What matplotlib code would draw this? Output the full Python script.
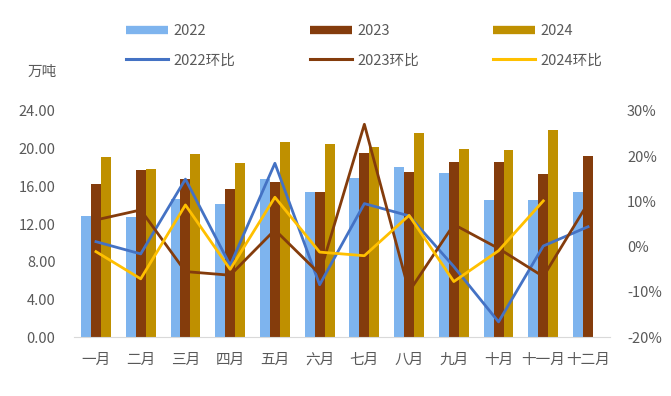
import numpy as np
import matplotlib
matplotlib.use("Agg")
from matplotlib import pyplot as plt
from matplotlib.lines import Line2D

plt.rcParams['font.family'] = ['Noto Sans CJK SC', 'DejaVu Sans']

months = ['一月', '二月', '三月', '四月', '五月', '六月',
          '七月', '八月', '九月', '十月', '十一月', '十二月']

# monthly output, 万吨
v2022 = [12.85, 12.78, 14.7, 14.1, 16.77, 15.4, 16.9, 18.02, 17.37, 14.57, 14.57, 15.4]
v2023 = [16.2, 17.7, 16.77, 15.73, 16.5, 15.35, 19.57, 17.48, 18.52, 18.52, 17.25, 19.18]
v2024 = [19.07, 17.8, 19.4, 18.5, 20.7, 20.5, 20.12, 21.62, 19.99, 19.88, 21.97]

# month-on-month change, %
m2022 = [1.1, -1.6, 14.9, -4.1, 18.4, -8.4, 9.5, 6.8, -4.4, -16.6, 0.15, 4.4]
m2023 = [5.9, 8.1, -5.5, -6.3, 3.7, -6.0, 27.0, -9.9, 4.9, -0.4, -6.6, 9.6]
m2024 = [-1.1, -7.1, 9.2, -5.0, 10.9, -1.2, -2.0, 6.9, -7.7, -0.9, 10.1]

c22_bar = '#7EB4EE'
c23_bar = '#843C0C'
c24_bar = '#BF9000'
c22_line = '#4472C4'
c23_line = '#843C0C'
c24_line = '#FFC000'
txt = '#595959'

fig = plt.figure(figsize=(6.71, 3.96), dpi=100)
ax = fig.add_axes([73.6/671, 1-337.3/396, (610.4-73.6)/671, (337.3-110.7)/396])
ax2 = ax.twinx()

x = np.arange(len(months))
w = 0.222
ax.bar(x - w, v2022, w, color=c22_bar, zorder=2)
ax.bar(x, v2023, w, color=c23_bar, zorder=2)
ax.bar(x[:len(v2024)] + w, v2024, w, color=c24_bar, zorder=2)

ax2.plot(x, np.array(m2022)/100, color=c22_line, lw=2)
ax2.plot(x, np.array(m2023)/100, color=c23_line, lw=2)
ax2.plot(x[:len(m2024)], np.array(m2024)/100, color=c24_line, lw=2)

ax.set_xlim(-0.5, 11.5)
ax.set_ylim(0, 24)
ax.set_yticks(np.arange(0, 25, 4))
ax.set_yticklabels(['%.2f' % t for t in np.arange(0, 25, 4)])
ax2.set_ylim(-0.2, 0.3)
ax2.set_yticks(np.arange(-0.2, 0.31, 0.1))
ax2.set_yticklabels(['%d%%' % round(t*100) for t in np.arange(-0.2, 0.31, 0.1)])
ax.set_xticks(x)
ax.set_xticklabels(months)

for a in (ax, ax2):
    for s in a.spines.values():
        s.set_visible(False)
    a.tick_params(length=0, labelsize=10.5, colors=txt)
ax.spines['bottom'].set_visible(True)
ax.spines['bottom'].set_color('#D9D9D9')
ax.tick_params(axis='y', pad=13)
ax.tick_params(axis='x', pad=11)
ax2.tick_params(axis='y', pad=12)

fig.text(42/671, 1-72/396, '万吨', ha='center', va='center', fontsize=10.5, color=txt)

handles = [
    Line2D([], [], color=c22_bar, lw=6, solid_capstyle='butt'),
    Line2D([], [], color=c22_line, lw=2.2),
    Line2D([], [], color=c23_bar, lw=6, solid_capstyle='butt'),
    Line2D([], [], color=c23_line, lw=2.2),
    Line2D([], [], color=c24_bar, lw=6, solid_capstyle='butt'),
    Line2D([], [], color=c24_line, lw=2.2),
]
labels = ['2022', '2022环比', '2023', '2023环比', '2024', '2024环比']
leg = fig.legend(handles, labels, ncol=3, loc='upper left',
                 bbox_to_anchor=(126/671, 1-24/396), frameon=False,
                 fontsize=10.5, handlelength=2.9, handletextpad=0.35,
                 columnspacing=5.1, labelspacing=1.05, borderpad=0,
                 borderaxespad=0)
for t in leg.get_texts():
    t.set_color(txt)

fig.savefig('out.png', dpi=100)
